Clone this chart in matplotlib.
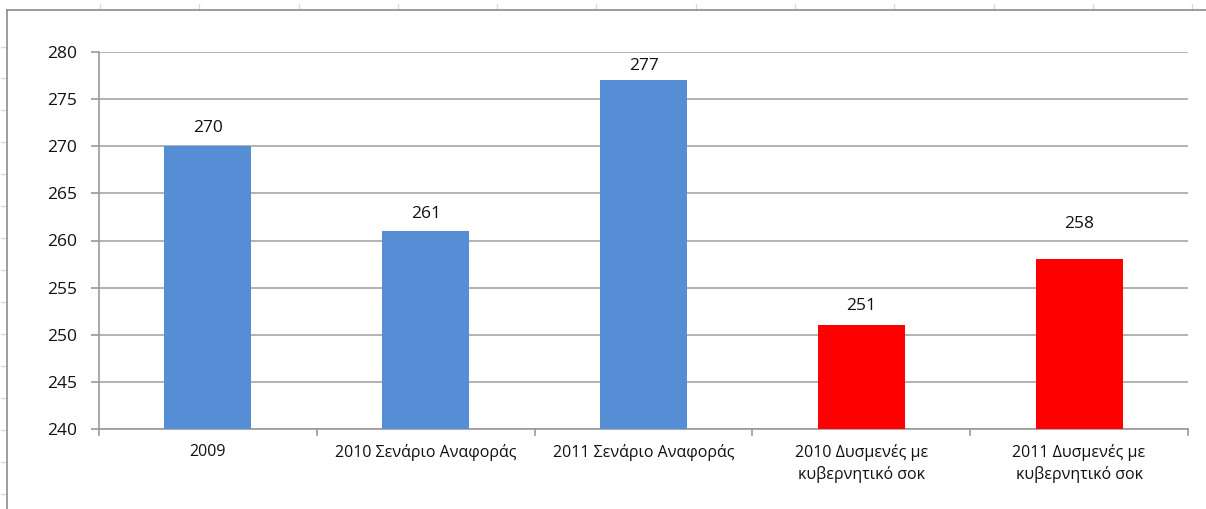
import matplotlib
matplotlib.use("Agg")
import matplotlib.pyplot as plt
from matplotlib.lines import Line2D

categories = [
    "2009",
    "2010 Σενάριο Αναφοράς",
    "2011 Σενάριο Αναφοράς",
    "2010 Δυσμενές με\nκυβερνητικό σοκ",
    "2011 Δυσμενές με\nκυβερνητικό σοκ",
]
values = [270, 261, 277, 251, 258]
bar_colors = ["#558ED5", "#558ED5", "#558ED5", "#FF0000", "#FF0000"]
y_ticks = [240, 245, 250, 255, 260, 265, 270, 275, 280]
# distance of each value label's middle above its bar, in pixels
label_offsets_px = [20, 19, 16, 21, 37]

W, H = 1206, 509
plt.rcParams["font.family"] = ["Open Sans", "DejaVu Sans"]

fig = plt.figure(figsize=(W / 100, H / 100), dpi=100)
fig.patch.set_facecolor("white")

# sheet cell grid marks behind the chart frame
for x in [100, 199, 299, 398, 497, 596, 696, 795, 894, 994, 1093, 1192]:
    fig.add_artist(Line2D([x / W, x / W], [1 - 4 / H, 1 - 10 / H], color="#d5dcea", lw=1))
for y in [47, 78, 110, 142, 174, 206, 238, 270, 302, 334, 366, 398, 430, 462, 494]:
    fig.add_artist(Line2D([1 / W, 6 / W], [1 - y / H, 1 - y / H], color="#d5dcea", lw=1))

# chart frame
fig.add_artist(Line2D([7 / W, 7 / W], [0, 1 - 10 / H], color="#8c8c8c", lw=1.2))
fig.add_artist(Line2D([7 / W, 1], [1 - 10 / H, 1 - 10 / H], color="#8c8c8c", lw=1.2))

left, right, top, bottom = 99, 1188, 52, 429
ax = fig.add_axes([left / W, 1 - bottom / H, (right - left) / W, (bottom - top) / H])

x = range(len(categories))
bars = ax.bar(x, values, width=0.4, color=bar_colors, zorder=3)

ax.set_ylim(240, 280)
ax.set_xlim(-0.5, len(categories) - 0.5)
ax.set_yticks(y_ticks)
ax.set_yticklabels([str(t) for t in y_ticks], fontsize=12.5, color="#111111")
ax.set_xticks(list(x))
ax.set_xticklabels(categories, fontsize=11.5, color="#111111", linespacing=1.4)
ax.tick_params(axis="x", length=0, pad=11)
ax.tick_params(axis="y", length=6, color="#9a9a9a", width=1.2, pad=10)

# category boundary ticks
for b in [i - 0.5 for i in range(len(categories) + 1)]:
    ax.add_line(Line2D([b, b], [0, -0.016], transform=ax.get_xaxis_transform(),
                       color="#9a9a9a", lw=1.2, clip_on=False))

ax.grid(axis="y", color="#a6a6a6", lw=1.2, zorder=0)
ax.set_axisbelow(True)
for s in ["top", "right"]:
    ax.spines[s].set_visible(False)
ax.spines["left"].set_color("#9a9a9a")
ax.spines["left"].set_linewidth(1.2)
ax.spines["bottom"].set_color("#9a9a9a")
ax.spines["bottom"].set_linewidth(1.2)

for rect, v, off in zip(bars, values, label_offsets_px):
    ax.annotate(str(v), (rect.get_x() + rect.get_width() / 2, v),
                xytext=(0, off * 72 / 100), textcoords="offset points",
                ha="center", va="center_baseline", fontsize=12.5, color="#111111")

fig.savefig("out.png", dpi=100)
